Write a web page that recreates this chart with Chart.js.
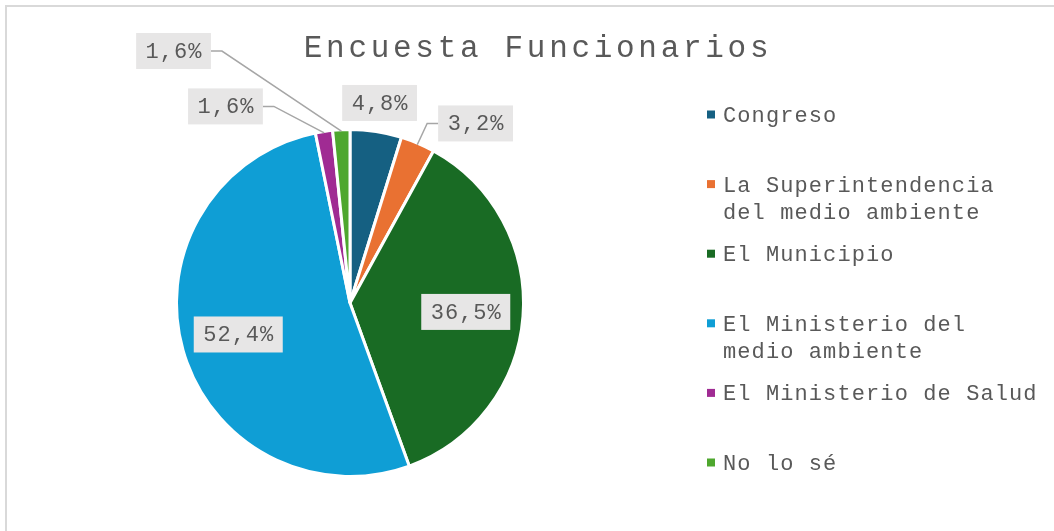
<!DOCTYPE html>
<html>
<head>
<meta charset="utf-8">
<script src="https://cdn.jsdelivr.net/npm/chart.js@4/dist/chart.umd.min.js"></script>
<style>
    body { margin: 0; background: #fff; }
    #wrap { width: 1054px; height: 531px; }
</style>
</head>
<body>
<div id="wrap"><canvas id="pieChart" width="1054" height="531"></canvas></div>
<script>
// Encuesta Funcionarios - pie

const chartTitle = "Encuesta Funcionarios";
const categories = [
    "Congreso",
    "La Superintendencia del medio ambiente",
    "El Municipio",
    "El Ministerio del medio ambiente",
    "El Ministerio de Salud",
    "No lo sé"
];
const percentages = [4.8, 3.2, 36.5, 52.4, 1.6, 1.6];
const sliceColors = ["#156082", "#e97132", "#196b24", "#0f9ed5", "#a02b93", "#4ea72e"];

// where Excel left each data label (inside = fraction of radius on the mid angle,
// otherwise offset from pie centre in radius units)
const labelSpots = [
    { dx: 0.172, dy: -1.163, leader: false },
    { dx: 0.730, dy: -1.044, leader: true },
    { inside: 0.675 },
    { inside: 0.675 },
    { dx: -0.724, dy: -1.143, leader: true },
    { dx: -1.026, dy: -1.465, leader: true }
];

const MONO = '"Courier New", "Nimbus Mono PS", FreeMono, "Liberation Mono", monospace';
const textGray = "#595959";

function pctText(v) {
    return v.toFixed(1).replace(".", ",") + "%";
}

function wrapWords(ctx, text, maxWidth) {
    const words = text.split(" ");
    const lines = [];
    let line = "";
    words.forEach(w => {
        const test = line ? line + " " + w : w;
        if (line && ctx.measureText(test).width > maxWidth) {
            lines.push(line);
            line = w;
        } else {
            line = test;
        }
    });
    lines.push(line);
    return lines;
}

const decorPlugin = {
    id: "decor",

    beforeDraw(chart) {
        const ctx = chart.ctx;
        ctx.save();
        ctx.strokeStyle = "#d9d9d9";
        ctx.lineWidth = 2;
        ctx.strokeRect(6, 6, 1200, 800);
        ctx.restore();
    },

    afterDraw(chart) {
        const ctx = chart.ctx;

        // title
        ctx.save();
        ctx.fillStyle = textGray;
        ctx.font = "31px " + MONO;
        ctx.letterSpacing = "3.7px";
        ctx.textAlign = "center";
        ctx.textBaseline = "alphabetic";
        ctx.fillText(chartTitle, 538, 57);
        ctx.restore();

        // data labels
        const meta = chart.getDatasetMeta(0);
        ctx.save();
        ctx.font = "22px " + MONO;
        ctx.letterSpacing = "1px";
        ctx.textBaseline = "middle";
        ctx.textAlign = "center";
        meta.data.forEach((arc, i) => {
            const spot = labelSpots[i];
            const r = arc.outerRadius - 1.5;
            const mid = (arc.startAngle + arc.endAngle) / 2;
            let cx, cy;
            if (spot.inside) {
                cx = arc.x + Math.cos(mid) * r * spot.inside;
                cy = arc.y + Math.sin(mid) * r * spot.inside;
            } else {
                cx = arc.x + spot.dx * r;
                cy = arc.y + spot.dy * r;
            }
            const txt = pctText(chart.data.datasets[0].data[i]);
            const w = ctx.measureText(txt).width + 18;
            const h = 36;

            if (spot.leader) {
                const side = cx > arc.x ? cx - w / 2 : cx + w / 2;
                const elbow = cx > arc.x ? side - 11 : side + 11;
                ctx.strokeStyle = "#a6a6a6";
                ctx.lineWidth = 1.5;
                ctx.beginPath();
                ctx.moveTo(side, cy);
                ctx.lineTo(elbow, cy);
                ctx.lineTo(arc.x + Math.cos(mid) * r, arc.y + Math.sin(mid) * r);
                ctx.stroke();
            }

            ctx.fillStyle = "#e7e6e6";
            ctx.fillRect(cx - w / 2, cy - h / 2, w, h);
            ctx.fillStyle = textGray;
            ctx.fillText(txt, cx + 0.5, cy + 1);
        });
        ctx.restore();

        // legend
        ctx.save();
        ctx.font = "22px " + MONO;
        ctx.letterSpacing = "1.1px";
        ctx.textAlign = "left";
        ctx.textBaseline = "alphabetic";
        chart.data.labels.forEach((lab, i) => {
            const base = 122 + i * 69.6;
            ctx.fillStyle = sliceColors[i];
            ctx.fillRect(707, base - 11.5, 8, 8);
            ctx.fillStyle = textGray;
            wrapWords(ctx, lab, 322).forEach((ln, k) => {
                ctx.fillText(ln, 723, base + k * 27);
            });
        });
        ctx.restore();
    }
};

const pieChart = new Chart(document.getElementById("pieChart"), {
    type: "pie",

    data: {
        labels: categories,
        datasets: [{
            data: percentages,
            backgroundColor: sliceColors,
            borderColor: "#ffffff",
            borderWidth: 3
        }]
    },

    options: {
        responsive: false,
        animation: false,
        layout: {
            padding: { left: 175, right: 529, top: 128, bottom: 53 }
        },
        plugins: {
            legend: { display: false },
            tooltip: { enabled: false }
        }
    },

    plugins: [decorPlugin]
});
</script>
</body>
</html>
